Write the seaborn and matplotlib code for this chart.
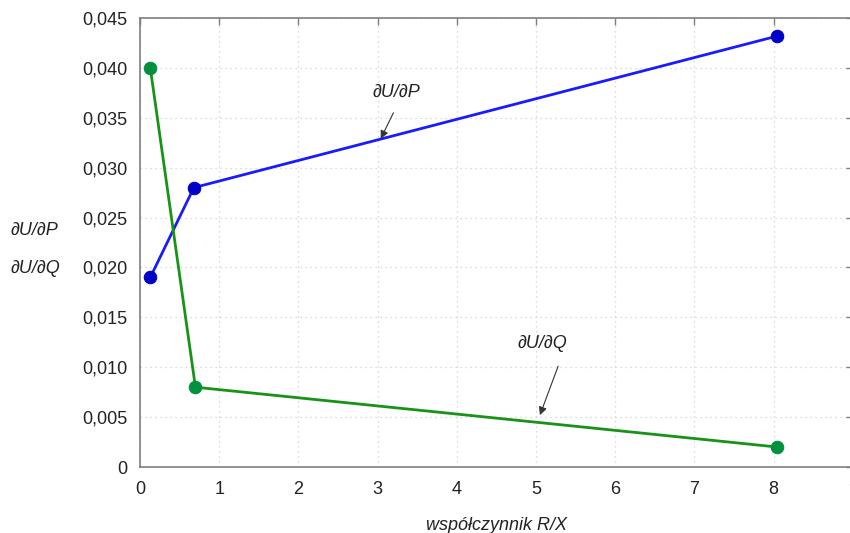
import matplotlib
matplotlib.use("Agg")
import matplotlib.pyplot as plt
import seaborn as sns
import pandas as pd
from matplotlib.ticker import FuncFormatter

# Data
rx_p = [0.13, 0.68, 8.05]
du_dp = [0.0190, 0.0280, 0.0432]
rx_q = [0.13, 0.70, 8.05]
du_dq = [0.0400, 0.0080, 0.0020]
x_ticks = [0, 1, 2, 3, 4, 5, 6, 7, 8, 9]
y_ticks = [0, 0.005, 0.010, 0.015, 0.020, 0.025, 0.030, 0.035, 0.040, 0.045]

sns.set_theme(style="white")
plt.rcParams['font.family'] = ['Liberation Sans', 'DejaVu Sans']

fig = plt.figure(figsize=(8.5, 5.33), dpi=100)
ax = fig.add_axes([0.1647, 0.1238, 0.8385, 0.8424])

df_p = pd.DataFrame({"x": rx_p, "y": du_dp})
df_q = pd.DataFrame({"x": rx_q, "y": du_dq})

sns.lineplot(data=df_p, x="x", y="y", ax=ax, color="#1a1aff", linewidth=2.0,
             marker="o", markersize=9, markerfacecolor="#0000c8",
             markeredgecolor="#0000c8", zorder=3)
sns.lineplot(data=df_q, x="x", y="y", ax=ax, color="#179417", linewidth=2.0,
             marker="o", markersize=9, markerfacecolor="#00913f",
             markeredgecolor="#00913f", zorder=3)

ax.set_xlim(0, 9)
ax.set_ylim(0, 0.045)
ax.set_xticks(x_ticks)
ax.set_yticks(y_ticks)

def yfmt(v, pos):
    if abs(v) < 1e-12:
        return "0"
    return f"{v:.3f}".replace(".", ",")

ax.yaxis.set_major_formatter(FuncFormatter(yfmt))
ax.xaxis.set_major_formatter(FuncFormatter(lambda v, p: f"{int(round(v))}"))

ax.grid(True, linestyle=(0, (1, 3)), color="#cfcfcf", linewidth=0.9)
for s in ax.spines.values():
    s.set_color("#7f7f7f")
    s.set_linewidth(1.2)

ax.tick_params(axis="both", direction="in", length=5, width=1, color="#7f7f7f",
               labelsize=13, labelcolor="#222222", top=True, right=True)
ax.tick_params(axis="y", pad=9)
ax.tick_params(axis="x", pad=10)

ax.set_xlabel("")
ax.set_ylabel("")
fig.text(0.5847, 0.015, "współczynnik R/X", fontsize=13, style="italic",
         ha="center", va="center", color="#222222")
fig.text(0.012, 0.5685, "∂U/∂P", fontsize=13, style="italic", ha="left",
         va="center", color="#222222")
fig.text(0.012, 0.497, "∂U/∂Q", fontsize=13, style="italic", ha="left",
         va="center", color="#222222")

arrow_kw = dict(arrowstyle="-|>", color="#333333", lw=0.8,
                shrinkA=0, shrinkB=0, mutation_scale=12)
ax.text(3.24, 0.0376, "∂U/∂P", fontsize=13, style="italic", ha="center",
        va="center", color="#222222")
ax.annotate("", xy=(3.04, 0.0329), xytext=(3.20, 0.0355), arrowprops=arrow_kw)
ax.text(5.08, 0.0124, "∂U/∂Q", fontsize=13, style="italic", ha="center",
        va="center", color="#222222")
ax.annotate("", xy=(5.05, 0.0052), xytext=(5.28, 0.0101), arrowprops=arrow_kw)

fig.savefig("out.png", dpi=100)
